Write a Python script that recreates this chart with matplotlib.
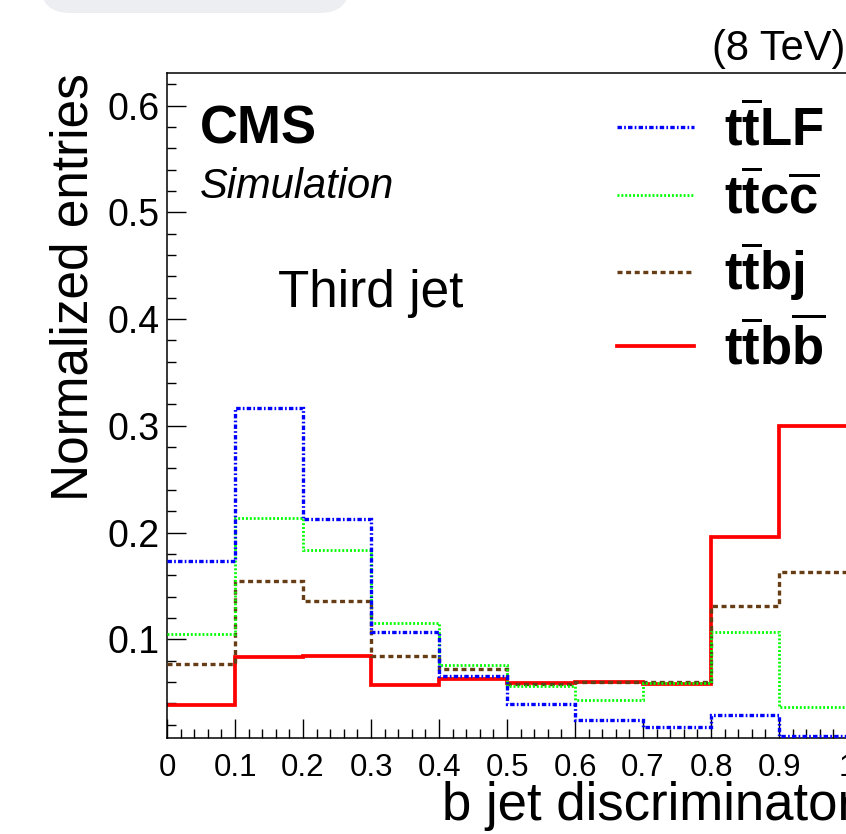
import numpy as np
import matplotlib
matplotlib.use('Agg')
import matplotlib.pyplot as plt
from matplotlib.patches import FancyBboxPatch
from matplotlib.ticker import MultipleLocator, FormatStrFormatter

plt.rcParams['font.family'] = ['Liberation Sans', 'DejaVu Sans']
plt.rcParams['mathtext.fontset'] = 'custom'
plt.rcParams['mathtext.rm'] = 'Liberation Sans'
plt.rcParams['mathtext.bf'] = 'Liberation Sans:bold'
plt.rcParams['mathtext.it'] = 'Liberation Sans:italic'
plt.rcParams['lines.scale_dashes'] = False

# bin edges of the b jet discriminator histogram
edges = [0.0, 0.1, 0.2, 0.3, 0.4, 0.5, 0.6, 0.7, 0.8, 0.9, 1.0]
# normalized entries (third jet)
ttLF = [0.173, 0.317, 0.213, 0.107, 0.066, 0.039, 0.024, 0.018, 0.029, 0.009]
ttcc = [0.105, 0.214, 0.184, 0.115, 0.076, 0.056, 0.043, 0.059, 0.107, 0.037]
ttbj = [0.077, 0.155, 0.136, 0.084, 0.072, 0.058, 0.060, 0.060, 0.131, 0.163]
ttbb = [0.038, 0.083, 0.084, 0.057, 0.063, 0.059, 0.060, 0.058, 0.196, 0.300]
labels = [r'$\mathbf{t\overline{t}LF}$', r'$\mathbf{t\overline{t}c\overline{c}}$',
          r'$\mathbf{t\overline{t}bj}$', r'$\mathbf{t\overline{t}b\overline{b}}$']

fig = plt.figure(figsize=(8.46, 8.34), dpi=100)
ax = fig.add_axes([167/846, 96/834, 680/846, 665/834])

# grey rounded box at the very top (part of the screenshot)
box = FancyBboxPatch((0.40, 8.21), 3.10, 0.5, boxstyle='round,pad=0,rounding_size=0.3',
                     transform=fig.dpi_scale_trans, facecolor='#edeef2', edgecolor='none')
fig.patches.append(box)

h4 = ax.stairs(ttbb, edges, baseline=None, color='#ff0000', lw=2.7, zorder=2)
h3 = ax.stairs(ttbj, edges, baseline=None, color='#663d14', lw=2.4, zorder=3)
h3.set_linestyle((0, (3.6, 2.6)))
h2 = ax.stairs(ttcc, edges, baseline=None, color='#00ff00', lw=2.0, zorder=4)
h2.set_linestyle((0, (1.4, 1.4)))
h1 = ax.stairs(ttLF, edges, baseline=None, color='#0000ff', lw=2.4, zorder=5)
h1.set_linestyle((0, (3.2, 1.6, 1.2, 1.6)))

ax.set_xlim(0, 1)
ax.set_ylim(0.0075, 0.6305)

ax.xaxis.set_major_locator(MultipleLocator(0.1))
ax.xaxis.set_minor_locator(MultipleLocator(0.02))
ax.yaxis.set_major_locator(MultipleLocator(0.1))
ax.yaxis.set_minor_locator(MultipleLocator(0.02))
ax.xaxis.set_major_formatter(FormatStrFormatter('%g'))
ax.yaxis.set_major_formatter(FormatStrFormatter('%g'))
ax.tick_params(which='both', direction='in', top=False, right=False, width=1.0, labelsize=27)
ax.tick_params(which='major', length=13.5)
ax.tick_params(which='minor', length=6.5)
# x labels squeezed so they fit side by side
ax.tick_params(axis='x', labelsize=22.5, pad=11)
ax.tick_params(axis='y', pad=5)
for s in ax.spines.values():
    s.set_linewidth(1.1)

ax.set_xlabel('b jet discriminator', fontsize=38, loc='right')
ax.xaxis.set_label_coords(1.012, -0.064)
ax.set_ylabel('Normalized entries', fontsize=37, loc='top')
ax.yaxis.set_label_coords(-0.10, 1.0)

ax.text(0.0485, 0.8947, 'CMS', transform=ax.transAxes, fontsize=38, fontweight='bold', va='baseline')
ax.text(0.0485, 0.812, 'Simulation', transform=ax.transAxes, fontsize=30, style='italic', va='baseline')
ax.text(0.163, 0.6486, 'Third jet', transform=ax.transAxes, fontsize=37, va='baseline')
fig.text(0.9988, 0.928, '(8 TeV)', fontsize=30, ha='right', va='baseline')

ax.legend([h1, h2, h3, h4], labels, loc='upper left', bbox_to_anchor=(0.662, 0.954),
          frameon=False, fontsize=38, borderpad=0, borderaxespad=0,
          handlelength=1.45, handletextpad=0.58, labelspacing=0.3)

fig.savefig('out.png', dpi=100)
